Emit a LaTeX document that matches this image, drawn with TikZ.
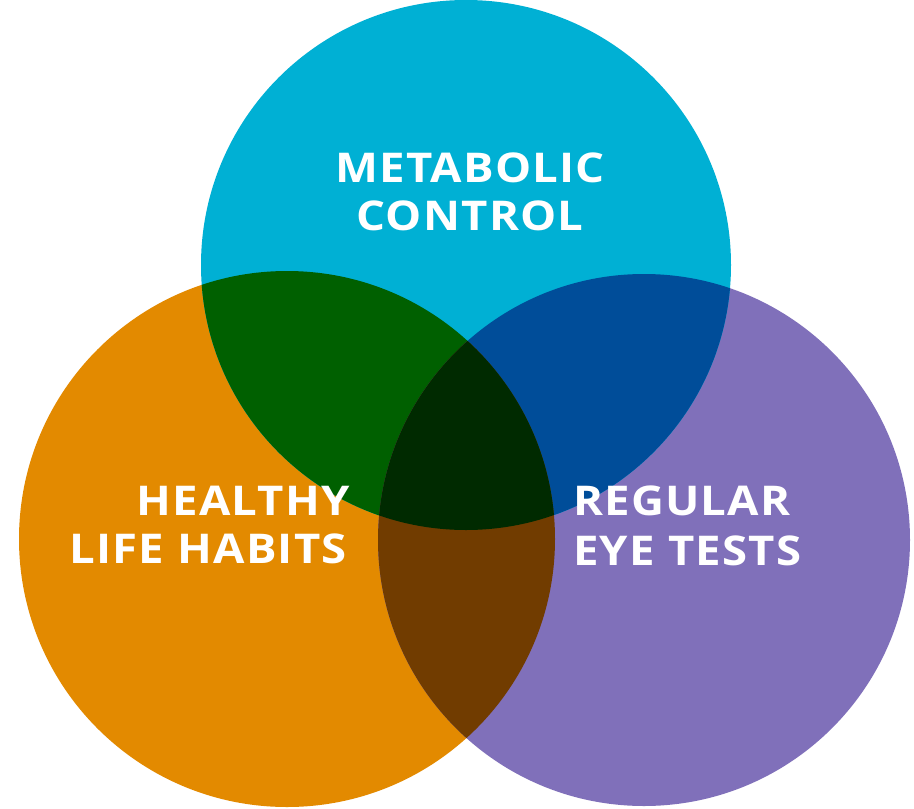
\documentclass[tikz,border=0pt]{standalone}
\usepackage{fontspec}
\setmainfont{Open Sans}
\newfontfamily\lblfont[LetterSpace=3,FakeStretch=1.11]{Open Sans}
\begin{document}
\begin{tikzpicture}[x=1pt,y=-1pt,
  lbl/.style={text=white,font=\lblfont\bfseries\fontsize{41}{48}\selectfont,inner sep=0pt}]
\definecolor{cyanc}{RGB}{0,176,212}
\definecolor{orangec}{RGB}{227,138,0}
\definecolor{purplec}{RGB}{128,112,186}
\definecolor{greenc}{RGB}{0,96,0}
\definecolor{bluec}{RGB}{0,77,153}
\definecolor{brownc}{RGB}{113,60,0}
\definecolor{darkc}{RGB}{0,42,0}
\useasboundingbox (0,0) rectangle (914,809);
\fill[white] (0,0) rectangle (914,809);
\def\Tc{(466,265) circle[radius=265]}
\def\Lc{(287,539) circle[radius=268]}
\def\Rc{(644,540) circle[radius=266]}
\fill[orangec] \Lc;
\fill[purplec] \Rc;
\fill[cyanc] \Tc;
\begin{scope}\clip \Tc; \fill[greenc] \Lc; \end{scope}
\begin{scope}\clip \Tc; \fill[bluec] \Rc; \end{scope}
\begin{scope}\clip \Lc; \fill[brownc] \Rc; \end{scope}
\begin{scope}\clip \Tc; \clip \Lc; \fill[darkc] \Rc; \end{scope}
\node[lbl,anchor=base] (m1) at (470,182) {METABOLIC};
\node[lbl,anchor=base] (m2) at (470,230) {CONTROL};
\node[lbl,anchor=base east] (h1) at (350,515) {HEALTHY};
\node[lbl,anchor=base east] (h2) at (347,563) {LIFE HABITS};
\node[lbl,anchor=base west] (r1) at (573,515) {REGULAR};
\node[lbl,anchor=base west] (r2) at (573,565) {EYE TESTS};
\end{tikzpicture}
\end{document}
